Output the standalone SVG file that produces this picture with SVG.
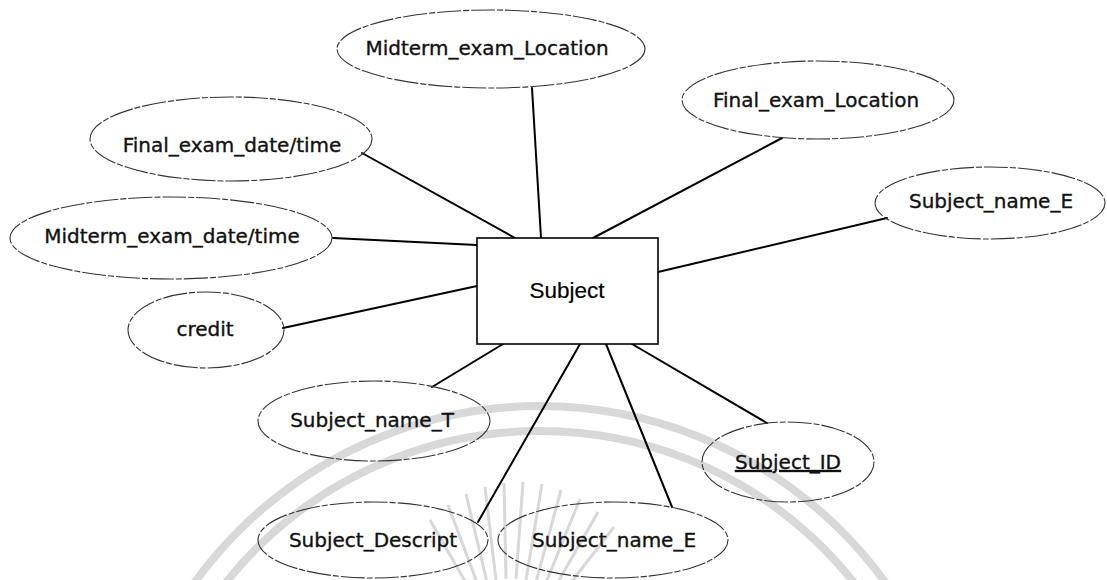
<svg xmlns="http://www.w3.org/2000/svg" width="1107" height="580" viewBox="0 0 1107 580">
  <style>
    .attr ellipse { fill: none; stroke: #333; stroke-width: 1.1; stroke-dasharray: 24 2 6 2; }
    .attr text { font-family: "DejaVu Sans", Verdana, sans-serif; font-size: 20px; fill: #111; stroke: #111; stroke-width: 0.35; text-anchor: middle; }
    .entity rect { fill: #fff; stroke: #000; stroke-width: 1.6; }
    .entity text { font-family: "Liberation Sans", Arial, sans-serif; font-size: 22.5px; fill: #000; stroke: #000; stroke-width: 0.2; text-anchor: middle; }
    #connectors line { stroke: #000; stroke-width: 2; stroke-linecap: round; }
    .seal { fill: none; stroke: #d8d8d8; }
  </style>

  <rect width="1107" height="580" fill="#fff"/>

  <!-- faint seal in the background -->
  <g id="seal">
    <circle class="seal" cx="540" cy="832" r="426" stroke-width="8"/>
    <circle class="seal" cx="540" cy="832" r="401" stroke-width="8"/>
    <g class="seal" stroke="#e4e4e4" stroke-width="3">
      <line x1="470" y1="590" x2="430" y2="520"/>
      <line x1="478" y1="585" x2="448" y2="505"/>
      <line x1="487" y1="582" x2="466" y2="494"/>
      <line x1="496" y1="580" x2="485" y2="487"/>
      <line x1="506" y1="579" x2="504" y2="483"/>
      <line x1="516" y1="579" x2="523" y2="482"/>
      <line x1="526" y1="580" x2="542" y2="484"/>
      <line x1="536" y1="582" x2="561" y2="490"/>
      <line x1="545" y1="585" x2="580" y2="499"/>
      <line x1="554" y1="589" x2="598" y2="512"/>
      <line x1="562" y1="594" x2="614" y2="527"/>
    </g>
  </g>

  <!-- relationship lines from the entity to its attributes -->
  <g id="connectors">
    <line x1="362" y1="153" x2="515" y2="238"/>
    <line x1="532" y1="88" x2="541" y2="238"/>
    <line x1="782" y1="138" x2="593" y2="238"/>
    <line x1="887" y1="218" x2="658" y2="272"/>
    <line x1="333" y1="238" x2="477" y2="245"/>
    <line x1="283" y1="328" x2="477" y2="286"/>
    <line x1="432" y1="387" x2="503" y2="344"/>
    <line x1="478" y1="522" x2="580" y2="344"/>
    <line x1="672" y1="507" x2="606" y2="344"/>
    <line x1="767" y1="423" x2="632" y2="344"/>
  </g>

  <g id="subject" class="entity">
    <rect x="477" y="238" width="181" height="106"/>
    <text x="567" y="298">Subject</text>
  </g>

  <g id="midterm-location" class="attr">
    <ellipse cx="491" cy="49" rx="154" ry="39"/>
    <text x="487" y="55">Midterm_exam_Location</text>
  </g>

  <g id="final-datetime" class="attr">
    <ellipse cx="231" cy="139" rx="141" ry="42"/>
    <text x="232" y="152">Final_exam_date/time</text>
  </g>

  <g id="final-location" class="attr">
    <ellipse cx="818" cy="100" rx="136" ry="39"/>
    <text x="816" y="107">Final_exam_Location</text>
  </g>

  <g id="midterm-datetime" class="attr">
    <ellipse cx="171" cy="238" rx="161" ry="41"/>
    <text x="172" y="243">Midterm_exam_date/time</text>
  </g>

  <g id="subject-name-e-top" class="attr">
    <ellipse cx="990" cy="203" rx="115" ry="36"/>
    <text x="991" y="208">Subject_name_E</text>
  </g>

  <g id="credit" class="attr">
    <ellipse cx="206" cy="330" rx="78" ry="38"/>
    <text x="205" y="336">credit</text>
  </g>

  <g id="subject-name-t" class="attr">
    <ellipse cx="374" cy="421" rx="116" ry="40"/>
    <text x="372" y="427">Subject_name_T</text>
  </g>

  <g id="subject-id" class="attr">
    <ellipse cx="788" cy="462" rx="86" ry="40"/>
    <text x="788" y="469" text-decoration="underline">Subject_ID</text>
  </g>

  <g id="subject-descript" class="attr">
    <ellipse cx="373" cy="540" rx="115" ry="38"/>
    <text x="373" y="547">Subject_Descript</text>
  </g>

  <g id="subject-name-e-bottom" class="attr">
    <ellipse cx="613" cy="540" rx="115" ry="38"/>
    <text x="614" y="547">Subject_name_E</text>
  </g>
</svg>
